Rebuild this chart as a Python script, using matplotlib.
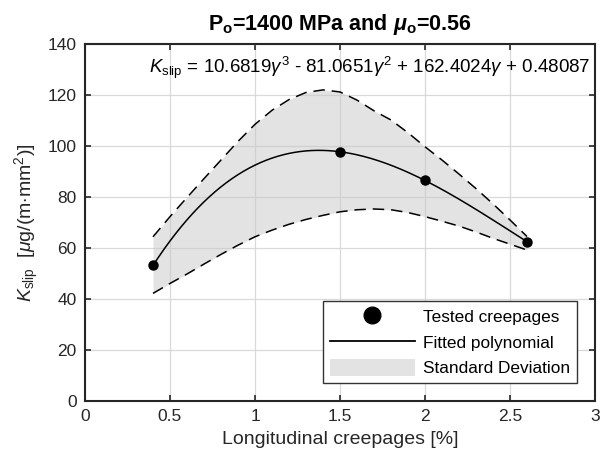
import matplotlib

matplotlib.use("Agg")
import matplotlib.pyplot as plt  # noqa: E402
import numpy as np  # noqa: E402
from matplotlib.lines import Line2D  # noqa: E402
from matplotlib.patches import Patch  # noqa: E402

# tested creepages and measured K_slip
TEST_X = [0.4, 1.5, 2.0, 2.6]
TEST_Y = [53.2, 97.8, 86.5, 62.5]

# coefficients of the fitted cubic, as printed on the chart
POLY_COEF = [10.6819, -81.0651, 162.4024, 0.48087]

# standard deviation band
BAND_X = [0.4, 0.5, 0.6, 0.7, 0.8, 0.9, 1.0, 1.1, 1.2, 1.3, 1.4, 1.5, 1.6, 1.7, 1.8,
          1.9, 2.0, 2.1, 2.2, 2.3, 2.4, 2.5, 2.6]
BAND_UPPER = [64.4, 72.3, 79.8, 87.2, 94.5, 101.8, 108.5, 114.0, 118.2, 121.0, 122.0,
              121.2, 118.0, 113.8, 110.2, 105.2, 99.7, 94.5, 89.0, 83.3, 77.3, 71.0, 64.5]
BAND_LOWER = [42.2, 46.1, 49.8, 53.7, 57.5, 61.1, 64.4, 67.0, 69.3, 71.2, 72.8, 74.2,
              75.0, 75.3, 75.0, 73.9, 72.3, 70.5, 68.6, 66.3, 63.8, 61.5, 59.2]

XTICKS = [0, 0.5, 1, 1.5, 2, 2.5, 3]
XTICK_LABELS = ["0", "0.5", "1", "1.5", "2", "2.5", "3"]
YTICKS = [0, 20, 40, 60, 80, 100, 120, 140]

plt.rcParams["font.family"] = ["Liberation Sans", "DejaVu Sans"]
plt.rcParams["mathtext.fontset"] = "custom"
plt.rcParams["mathtext.rm"] = "Liberation Sans"
plt.rcParams["mathtext.it"] = "Liberation Sans:italic"
plt.rcParams["mathtext.bf"] = "Liberation Sans:bold"
plt.rcParams["mathtext.bfit"] = "Liberation Sans:bold:italic"

fig = plt.figure(figsize=(6.05, 4.63), dpi=100)
ax = fig.add_axes([85 / 605, 62 / 463, 510 / 605, 357 / 463])

fit_x = np.linspace(TEST_X[0], TEST_X[-1], 200)
fit_y = np.polyval(POLY_COEF, fit_x)

ax.fill_between(BAND_X, BAND_LOWER, BAND_UPPER, color="#c8c8c8", alpha=0.5, lw=0, zorder=2)
ax.plot(BAND_X, BAND_UPPER, color="black", lw=1.1, dashes=(7.5, 4.5), zorder=3)
ax.plot(BAND_X, BAND_LOWER, color="black", lw=1.1, dashes=(7.5, 4.5), zorder=3)
ax.plot(fit_x, fit_y, color="black", lw=1.1, zorder=4)
ax.plot(TEST_X, TEST_Y, "o", color="black", ms=6.5, zorder=5)

ax.set_xlim(0, 3)
ax.set_ylim(0, 140)
ax.set_xticks(XTICKS)
ax.set_xticklabels(XTICK_LABELS)
ax.set_yticks(YTICKS)
ax.tick_params(direction="in", top=True, right=True, labelsize=12.5, length=4, width=1.2,
               colors="#262626", pad=6)
ax.grid(True, color="#d9d9d9", lw=0.9)
ax.set_axisbelow(True)
for s in ax.spines.values():
    s.set_linewidth(1.5)
    s.set_color("#262626")

ax.set_xlabel("Longitudinal creepages [%]", fontsize=14, color="#262626", labelpad=5)
ax.set_ylabel(r"$K_{\mathrm{slip}}$  [$\mu$g/(m$\cdot$mm$^2$)]", fontsize=14, color="#262626",
              labelpad=5)
ax.set_title(r"P$_{\mathbf{o}}$=1400 MPa and $\mathbfit{\mu}_{\mathbf{o}}$=0.56",
             fontsize=15.5, fontweight="bold", pad=10)

ax.text(0.992, 0.932,
        r"$K_{\mathrm{slip}}$ = 10.6819$\gamma^3$ - 81.0651$\gamma^2$ + 162.4024$\gamma$ + 0.48087",
        transform=ax.transAxes, ha="right", va="center", fontsize=13.5)

handles = [
    Line2D([], [], marker="o", color="black", ls="none", ms=12),
    Line2D([], [], color="black", lw=1.3),
    Patch(facecolor="#e3e3e3", edgecolor="none"),
]
labels = ["Tested creepages", "Fitted polynomial", "Standard Deviation"]
leg = ax.legend(handles, labels, loc="lower right", bbox_to_anchor=(0.965, 0.05),
                fontsize=12.4, handlelength=4.9, handleheight=1.2, handletextpad=0.5,
                labelspacing=0.45, borderpad=0.4, borderaxespad=0, fancybox=False,
                framealpha=1, edgecolor="#333333")
leg.get_frame().set_linewidth(1.0)

fig.savefig("out.png", dpi=100)
